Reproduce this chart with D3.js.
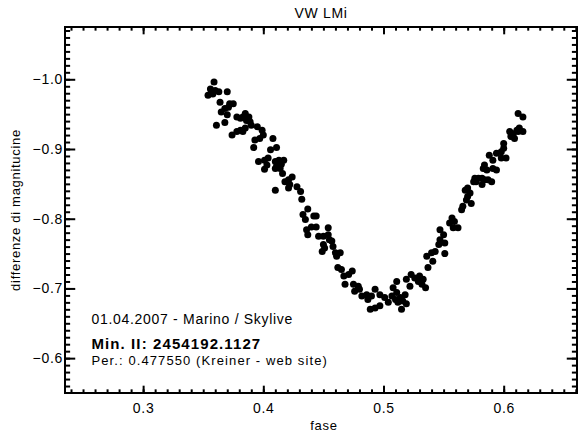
<!DOCTYPE html>
<html>
<head>
<meta charset="utf-8">
<script src="https://cdn.jsdelivr.net/npm/d3@7"></script>
<style>
  body { margin: 0; background: #fff; }
  text { font-family: "Liberation Sans", Arial, Helvetica, sans-serif; fill: #000; letter-spacing: 0.7px; }
</style>
</head>
<body>
<div id="chart"></div>
<script>
// phase / magnitude difference
var fase = [
  0.359,0.356,0.354,0.357,0.360,0.363,0.370,0.364,0.372,0.375,0.371,0.368,0.365,0.370,0.368,0.361,
  0.378,0.381,0.385,0.388,0.383,0.374,0.378,0.381,0.383,0.385,0.390,0.395,0.399,0.393,0.397,0.400,
  0.408,0.392,0.406,0.411,0.396,0.401,0.404,0.403,0.410,0.417,0.411,
  0.401,0.410,0.413,0.414,0.416,0.418,0.421,0.424,0.422,0.421,0.410,0.428,0.431,0.432,0.437,0.433,
  0.435,0.442,0.444,0.436,0.440,0.444,0.454,0.437,0.446,0.450,0.454,
  0.455,0.457,0.450,0.451,0.449,0.458,0.460,0.464,0.461,0.462,0.465,0.467,0.471,0.474,0.468,0.475,
  0.479,0.476,0.480,0.482,0.486,0.490,0.487,0.493,0.497,0.501,0.504,0.489,0.493,0.497,0.508,0.511,
  0.510,0.507,0.512,
  0.515,0.516,0.519,0.518,0.514,0.511,0.519,0.523,0.522,0.530,0.526,0.529,0.532,0.535,0.533,0.537,
  0.536,0.540,0.543,0.541,0.551,0.546,0.547,0.551,0.550,0.547,0.557,0.559,0.555,0.558,0.562,
  0.566,0.569,0.573,0.565,0.568,0.570,0.572,0.570,0.576,0.579,0.582,0.575,0.577,0.584,0.587,0.590,
  0.582,0.584,0.583,0.586,0.591,0.594,0.600,0.598,0.594,0.588,0.591,0.598,0.602,0.600,0.605,0.608,
  0.612,0.616,0.606,0.609,0.611,0.613,0.612,0.616,
  0.358,0.386,0.415,0.389
];
var dmag = [
  -0.996,-0.986,-0.977,-0.982,-0.984,-0.982,-0.982,-0.967,-0.965,-0.965,-0.960,-0.958,-0.953,-0.949,-0.938,-0.934,
  -0.946,-0.944,-0.951,-0.946,-0.946,-0.920,-0.925,-0.927,-0.925,-0.930,-0.934,-0.932,-0.927,-0.913,-0.915,-0.920,
  -0.915,-0.902,-0.899,-0.902,-0.882,-0.884,-0.887,-0.877,-0.882,-0.884,-0.875,
  -0.871,-0.872,-0.884,-0.872,-0.865,-0.853,-0.856,-0.860,-0.849,-0.844,-0.841,-0.846,-0.839,-0.828,-0.814,-0.806,
  -0.799,-0.804,-0.804,-0.784,-0.788,-0.788,-0.787,-0.777,-0.775,-0.775,-0.777,
  -0.770,-0.768,-0.763,-0.758,-0.753,-0.760,-0.751,-0.751,-0.746,-0.730,-0.727,-0.718,-0.720,-0.725,-0.706,-0.706,
  -0.703,-0.696,-0.699,-0.689,-0.691,-0.689,-0.684,-0.699,-0.691,-0.687,-0.680,-0.670,-0.672,-0.675,-0.701,-0.694,
  -0.684,-0.689,-0.680,
  -0.670,-0.682,-0.678,-0.691,-0.687,-0.710,-0.713,-0.720,-0.703,-0.718,-0.715,-0.710,-0.706,-0.701,-0.713,-0.730,
  -0.746,-0.751,-0.753,-0.739,-0.750,-0.763,-0.770,-0.765,-0.777,-0.784,-0.801,-0.796,-0.794,-0.787,-0.787,
  -0.818,-0.827,-0.822,-0.813,-0.841,-0.844,-0.837,-0.832,-0.858,-0.858,-0.858,-0.853,-0.853,-0.856,-0.856,-0.853,
  -0.849,-0.877,-0.872,-0.870,-0.872,-0.870,-0.901,-0.896,-0.894,-0.891,-0.884,-0.887,-0.887,-0.908,-0.925,-0.922,
  -0.925,-0.925,-0.918,-0.915,-0.927,-0.930,-0.951,-0.946,
  -0.979,-0.941,-0.878,-0.939
];
var xTicks = [0.3, 0.4, 0.5, 0.6];
var yTicks = [-1.0, -0.9, -0.8, -0.7, -0.6];
var titolo = "VW  LMi";
var note = ["01.04.2007 - Marino / Skylive", "Min. II: 2454192.1127", "Per.: 0.477550 (Kreiner - web site)"];

var width = 583, height = 434;
var m = {left: 65, right: 6, top: 27, bottom: 41};

var svg = d3.select("#chart").append("svg")
  .attr("width", width)
  .attr("height", height);

var x = d3.scaleLinear().domain([0.235, 0.661]).range([m.left, width - m.right]);
// magnitudes: brighter (more negative) on top
var y = d3.scaleLinear().domain([-0.55, -1.075]).range([height - m.bottom, m.top]);

var xMinor = d3.range(24, 67).map(function(d){ return d / 100; });
var yMinor = d3.range(-107, -55).map(function(d){ return d / 100; });
var fmt = d3.format(".1f");

var plotW = width - m.left - m.right, plotH = height - m.top - m.bottom;
var xLen = 0.02 * plotH, yLen = 0.02 * plotW;

function styleAxis(g){
  g.select(".domain").remove();
  g.selectAll("line").attr("stroke", "#000").attr("stroke-width", 2);
  g.selectAll("text").attr("font-size", 14);
}

// bottom
svg.append("g").attr("transform", "translate(0," + (height - m.bottom) + ")")
  .call(d3.axisBottom(x).tickValues(xMinor).tickSize(-xLen / 2).tickFormat("")).call(styleAxis);
svg.append("g").attr("transform", "translate(0," + (height - m.bottom) + ")")
  .call(d3.axisBottom(x).tickValues(xTicks).tickSize(-xLen).tickPadding(10).tickFormat(fmt)).call(styleAxis);
// top
svg.append("g").attr("transform", "translate(0," + m.top + ")")
  .call(d3.axisTop(x).tickValues(xMinor).tickSize(-xLen / 2).tickFormat("")).call(styleAxis);
svg.append("g").attr("transform", "translate(0," + m.top + ")")
  .call(d3.axisTop(x).tickValues(xTicks).tickSize(-xLen).tickFormat("")).call(styleAxis);
// left
svg.append("g").attr("transform", "translate(" + m.left + ",0)")
  .call(d3.axisLeft(y).tickValues(yMinor).tickSize(-yLen / 2).tickFormat("")).call(styleAxis);
svg.append("g").attr("transform", "translate(" + m.left + ",0)")
  .call(d3.axisLeft(y).tickValues(yTicks).tickSize(-yLen).tickPadding(2).tickFormat(fmt)).call(styleAxis);
// right
svg.append("g").attr("transform", "translate(" + (width - m.right) + ",0)")
  .call(d3.axisRight(y).tickValues(yMinor).tickSize(-yLen / 2).tickFormat("")).call(styleAxis);
svg.append("g").attr("transform", "translate(" + (width - m.right) + ",0)")
  .call(d3.axisRight(y).tickValues(yTicks).tickSize(-yLen).tickFormat("")).call(styleAxis);

// frame
svg.append("rect")
  .attr("x", m.left).attr("y", m.top)
  .attr("width", plotW).attr("height", plotH)
  .attr("fill", "none").attr("stroke", "#000").attr("stroke-width", 2);

// points
svg.append("g").selectAll("circle")
  .data(fase)
  .enter().append("circle")
  .attr("cx", function(d){ return x(d); })
  .attr("cy", function(d, i){ return y(dmag[i]); })
  .attr("r", 3.5)
  .attr("fill", "#000");

// titles
svg.append("text").attr("x", m.left + plotW / 2).attr("y", 18)
  .attr("text-anchor", "middle").attr("font-size", 14).text(titolo);
svg.append("text").attr("x", m.left + plotW / 2 + 3).attr("y", 430)
  .attr("text-anchor", "middle").attr("font-size", 13).text("fase");
svg.append("text")
  .attr("transform", "translate(20," + (m.top + plotH / 2) + ") rotate(-90)")
  .attr("text-anchor", "middle").attr("font-size", 13).text("differenze di magnitucine");

// annotations
svg.append("text").attr("x", x(0.257)).attr("y", 324).attr("font-size", 14).text(note[0]);
svg.append("text").attr("x", x(0.257)).attr("y", 348.5).attr("font-size", 15)
  .attr("font-weight", "bold").style("letter-spacing", "1.1px").text(note[1]);
svg.append("text").attr("x", x(0.257)).attr("y", 364.5).attr("font-size", 13)
  .style("letter-spacing", "1.1px").text(note[2]);
</script>
</body>
</html>
